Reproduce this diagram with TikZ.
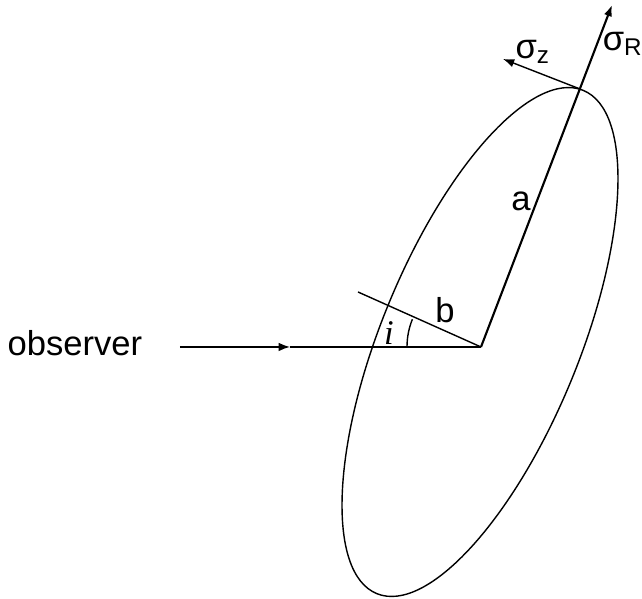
\documentclass[tikz,border=0pt]{standalone}
\usepackage{fontspec}
\setmainfont{Liberation Sans}
\newfontfamily\timesfont{Liberation Serif}
\usetikzlibrary{arrows.meta}

\begin{document}
\begin{tikzpicture}[
    x=0.0125cm,
    y=0.0125cm,
    font=\fontsize{12.3}{14}\selectfont,
    >={Latex[length=4pt,width=3pt]},
    thinline/.style={line width=0.5pt},
    axisline/.style={line width=0.75pt},
    lbl/.style={inner sep=1pt}
]
\useasboundingbox (0,0) rectangle (642,599);

% Key points.
\coordinate (center) at (481,252);
\coordinate (ellctr) at (480,257);
\coordinate (obs_start) at (180,252);
\coordinate (obs_mid) at (290,252);
\coordinate (rim) at (580,510);
\coordinate (sigR_tip) at (612,594);
\coordinate (sigz_tip) at (503,540);
\coordinate (b_end) at (358,307);

% Disc outline.
\draw[thinline, rotate around={67.7:(ellctr)}] (ellctr) ellipse [x radius=272, y radius=99];

% Axes.
\draw[axisline, ->] (center) -- (sigR_tip);
\draw[thinline] (center) -- (b_end);
\draw[thinline, ->] (rim) -- (sigz_tip);

% Line of sight.
\draw[thinline, ->] (obs_start) -- (obs_mid);
\draw[thinline] (obs_mid) -- (center);
\draw[thinline] ([shift={(180:74)}]center) arc[start angle=180, end angle=158, radius=74];

% Labels.
\node[anchor=base west, inner sep=0pt] (observer) at (7,243) {observer};
\node[lbl] (lbl_a) at (521,398) {a};
\node[lbl] (lbl_b) at (445,289) {b};
\node[lbl] (lbl_i) at (389,266) {\timesfont\itshape i};
\node[lbl] (lbl_sigR) at (623,555) {σ\textsubscript{R}};
\node[lbl] (lbl_sigz) at (533,547) {σ\textsubscript{z}};

\end{tikzpicture}
\end{document}
